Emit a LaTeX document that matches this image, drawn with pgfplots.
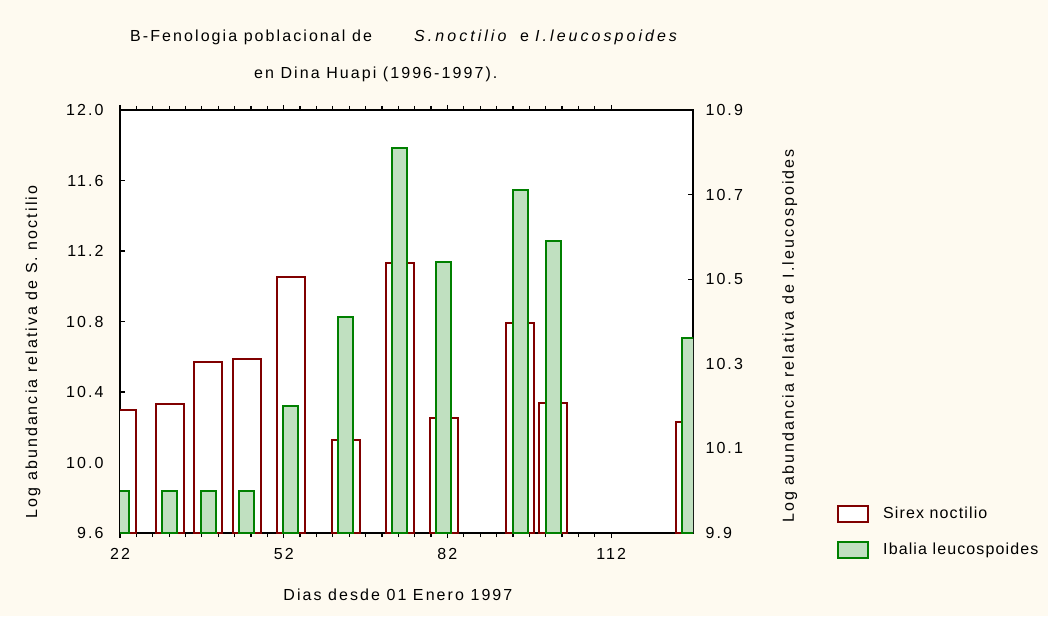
\documentclass[border=0pt]{standalone}
\usepackage{fontspec}
\setmainfont{Liberation Sans}[LetterSpace=13]
\newfontfamily\legfont{Liberation Sans}[LetterSpace=7]
\newfontfamily\itfont{Liberation Sans}[LetterSpace=19]
\usepackage{pgfplots}
\pgfplotsset{compat=1.18}
\definecolor{bgc}{RGB}{254,250,240}
\definecolor{sred}{RGB}{128,0,0}
\definecolor{sgreen}{RGB}{0,128,0}
\definecolor{gfill}{RGB}{192,224,192}
\begin{document}
\fontsize{16pt}{19pt}\selectfont
\begin{tikzpicture}[x=1pt,y=1pt]
\path[use as bounding box] (0pt,0pt) rectangle (1048pt,616pt);
\fill[bgc] (0pt,0pt) rectangle (1048pt,616pt);
\node[anchor=base west,inner sep=0pt] at (130pt,574pt) {B-Fenologia poblacional de};
\node[anchor=base west,inner sep=0pt] at (414pt,574pt) {\itfont\itshape S.noctilio};
\node[anchor=base west,inner sep=0pt] at (520pt,574pt) {e};
\node[anchor=base west,inner sep=0pt] at (535pt,574pt) {\itfont\itshape I.leucospoides};
\node[anchor=base west,inner sep=0pt] at (254pt,537pt) {en Dina Huapi (1996-1997).};
\begin{axis}[
  at={(120pt,83pt)}, anchor=south west, width=573pt, height=423pt, scale only axis,
  xmin=22, xmax=127, ymin=9.6, ymax=12,
  axis background/.style={fill=white},
  axis line style={line width=1.6pt},
  tick align=inside, ytick pos=left, xtick pos=both,
  xtick={22,52,82,112}, minor x tick num=9,
  ytick={9.6,10.0,10.4,10.8,11.2,11.6,12.0},
  /pgf/number format/assume math mode=true,
  yticklabel style={/pgf/number format/.cd,fixed,fixed zerofill,precision=1,/tikz/.cd,xshift=-11pt},
  xticklabel style={yshift=-5pt},
  major tick length=5pt, minor tick length=4pt,
  tick style={black, line width=1.2pt},
  ybar, bar width=5.13,
  xlabel={Dias desde 01 Enero 1997},
  xlabel style={at={(axis description cs:0.485,-0.1466)}, anchor=center},
  ylabel={Log abundancia relativa de S. noctilio},
  ylabel style={at={(axis description cs:-0.1518,0.428)}, anchor=center},
]
\addplot[draw=sred, fill=white, line width=2pt] coordinates {
(22.3,10.30) (31.1,10.33) (38.2,10.57) (45.2,10.59) (53.3,11.05) (63.4,10.13)
(73.3,11.13) (81.3,10.25) (95.3,10.79) (101.4,10.34) (126.4,10.23)};
\end{axis}
\begin{axis}[
  at={(120pt,83pt)}, anchor=south west, width=573pt, height=423pt, scale only axis,
  xmin=22, xmax=127, ymin=9.9, ymax=10.9,
  axis y line*=right, axis x line=none,
  axis line style={line width=1.6pt},
  tick align=inside,
  ytick={9.9,10.1,10.3,10.5,10.7,10.9},
  /pgf/number format/assume math mode=true,
  yticklabel style={/pgf/number format/.cd,fixed,fixed zerofill,precision=1,/tikz/.cd,xshift=7pt},
  major tick length=5pt,
  tick style={black, line width=1.2pt},
  ybar, bar width=2.75,
  ylabel={Log abundancia relativa de I.leucospoides},
  ylabel style={at={(axis description cs:1.169,0.4657)}, anchor=center},
  legend style={at={(axis description cs:1.2513,0.066)}, anchor=north west,
    draw=none, fill=none, inner sep=0pt, /tikz/row sep=18pt, font=\legfont,
    /tikz/every odd column/.append style={column sep=12pt}},
  legend cell align=left,
]
\addlegendimage{legend image code/.code={\draw[draw=sred,fill=white,line width=2pt] (0pt,-8pt) rectangle (30pt,8pt);}}
\addlegendentry{Sirex noctilio}
\addplot[draw=sgreen, fill=gfill, line width=2pt,
  legend image code/.code={\draw[draw=sgreen,fill=gfill,line width=2pt] (0pt,-8pt) rectangle (30pt,8pt);}] coordinates {
(22.3,10.00) (31.1,10.00) (38.2,10.00) (45.2,10.00) (53.3,10.20) (63.4,10.41)
(73.3,10.81) (81.3,10.54) (95.3,10.71) (101.4,10.59) (126.4,10.36)};
\addlegendentry{Ibalia leucospoides}
\end{axis}
\end{tikzpicture}
\end{document}
